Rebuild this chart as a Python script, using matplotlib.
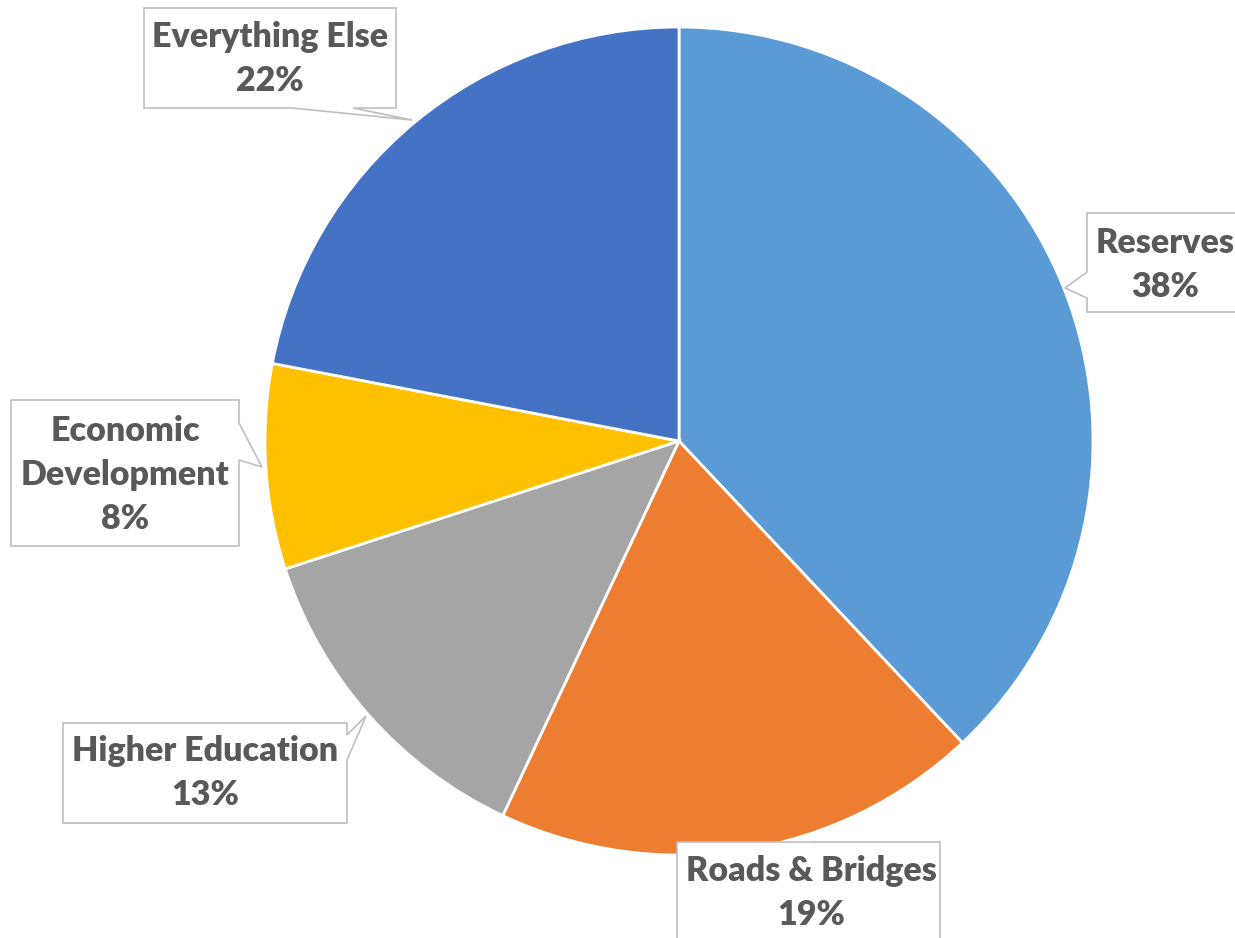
import matplotlib.pyplot as plt
from matplotlib.patches import Polygon

# data
labels = ['Reserves', 'Roads & Bridges', 'Higher Education', 'Economic\nDevelopment', 'Everything Else']
shares = [38, 19, 13, 8, 22]
colors = ['#5B9BD5', '#ED7D31', '#A5A5A5', '#FFC000', '#4472C4']

W, H = 1235, 938

# callout shapes, in pixel coords (x, y from top), plus text centre
callouts = [
    ([(1087, 213), (1240, 213), (1240, 312), (1087, 312), (1087, 298), (1065, 288), (1087, 272)], (1165, 265)),
    ([(677, 842), (940, 842), (940, 960), (677, 960)], (811, 893)),
    ([(63, 723), (347, 723), (347, 735), (366, 716), (347, 760), (347, 823), (63, 823)], (205, 773)),
    ([(11, 400), (239, 400), (239, 423), (262, 467), (239, 460), (239, 546), (11, 546)], (125, 475)),
    ([(144, 8), (396, 8), (396, 108), (353, 108), (412, 120), (292, 108), (144, 108)], (270, 59)),
]

fig = plt.figure(figsize=(W / 100, H / 100), dpi=100)
ax = fig.add_axes([0, 0, 1, 1])
ax.set_xlim(0, W)
ax.set_ylim(0, H)
ax.axis('off')

ax.pie(shares, colors=colors, startangle=90, counterclock=False,
       center=(679, H - 441), radius=414,
       wedgeprops=dict(edgecolor='white', linewidth=2))
ax.set_xlim(0, W)
ax.set_ylim(0, H)
ax.set_aspect('equal')

for (pts, (tx, ty)), lab, v in zip(callouts, labels, shares):
    poly = Polygon([(x, H - y) for x, y in pts], closed=True, facecolor='white',
                   edgecolor='#BFBFBF', linewidth=1.2, zorder=3)
    ax.add_patch(poly)
    ax.text(tx, H - ty, f'{lab}\n{v}%', ha='center', va='center', fontsize=24.5,
            fontweight='heavy', color='#595959', family='Lato', linespacing=1.48, zorder=4)

fig.savefig('out.png', dpi=100)
